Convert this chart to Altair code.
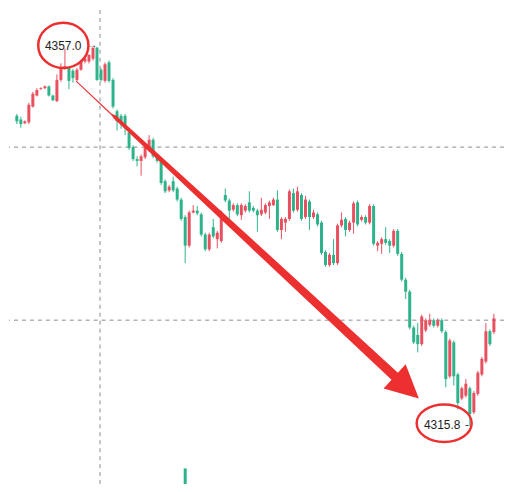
import altair as alt
import pandas as pd

# ---- candle data (price units) ----
opens = [4349.5, 4349.1, 4348.7, 4348.8, 4350.5, 4351.7, 4352.4, 4352.5, 4352.7, 4351.7,
         4351.1, 4353.4, 4354.6, 4354.7, 4354.4, 4353.4, 4354.5, 4355.4, 4355.4, 4355.7,
         4356.9, 4354.5, 4353.3, 4355.3, 4353.4, 4350.0, 4349.5, 4349.5, 4347.7, 4346.1,
         4344.8, 4344.6, 4345.0, 4345.8, 4346.9, 4345.1, 4344.6, 4342.4, 4341.4, 4342.4,
         4341.6, 4340.4, 4338.5, 4335.4, 4339.0, 4339.2, 4338.8, 4336.6, 4335.0, 4337.4,
         4336.1, 4335.9, 4340.9, 4340.3, 4339.3, 4339.8, 4338.7, 4339.2, 4340.1, 4339.5,
         4339.2, 4338.8, 4339.0, 4339.7, 4339.8, 4340.4, 4337.1, 4337.9, 4338.3, 4341.1,
         4339.3, 4340.9, 4338.5, 4340.2, 4338.5, 4338.8, 4337.9, 4334.7, 4333.3, 4334.4,
         4333.5, 4337.6, 4338.3, 4337.1, 4337.9, 4340.1, 4338.2, 4338.5, 4337.9, 4339.7,
         4335.4, 4335.6, 4336.1, 4335.9, 4335.4, 4337.0, 4334.5, 4331.7, 4330.4, 4326.5,
         4325.7, 4324.7, 4326.2, 4326.8, 4327.3, 4326.7, 4327.3, 4326.0, 4321.2, 4324.9,
         4321.4, 4318.8, 4319.1, 4319.9, 4317.3, 4319.3, 4321.4, 4322.8, 4326.1, 4326.0]
closes = [4348.9, 4348.6, 4348.9, 4350.7, 4351.9, 4352.3, 4352.5, 4352.7, 4351.7, 4351.2,
          4353.4, 4354.8, 4354.9, 4353.3, 4353.6, 4354.5, 4355.4, 4355.7, 4356.1, 4356.9,
          4353.4, 4353.4, 4355.1, 4353.3, 4350.5, 4348.9, 4348.9, 4348.2, 4346.0, 4344.8,
          4344.6, 4345.1, 4346.1, 4346.9, 4345.1, 4344.6, 4342.2, 4341.3, 4341.8, 4341.4,
          4340.4, 4338.3, 4335.4, 4339.0, 4339.2, 4338.9, 4336.6, 4335.0, 4336.6, 4336.4,
          4336.8, 4339.0, 4340.3, 4339.2, 4339.8, 4338.8, 4339.8, 4339.7, 4339.2, 4339.2,
          4338.7, 4339.3, 4339.8, 4340.1, 4340.4, 4337.1, 4338.3, 4338.3, 4341.3, 4339.2,
          4341.3, 4338.3, 4340.4, 4338.5, 4339.0, 4337.7, 4334.6, 4333.3, 4334.4, 4333.5,
          4337.6, 4338.2, 4337.1, 4337.9, 4340.0, 4337.7, 4338.5, 4337.9, 4339.7, 4335.6,
          4335.7, 4336.1, 4335.7, 4335.4, 4337.0, 4334.5, 4331.7, 4330.4, 4326.5, 4324.9,
          4324.7, 4327.7, 4327.3, 4327.3, 4326.7, 4327.3, 4326.1, 4320.9, 4325.1, 4321.2,
          4318.3, 4319.9, 4320.4, 4317.1, 4319.4, 4321.6, 4323.1, 4326.1, 4324.7, 4327.5]
highs = [4349.7, 4349.4, 4349.0, 4350.9, 4352.1, 4352.5, 4352.6, 4352.8, 4352.8, 4351.8,
         4354.0, 4355.2, 4356.8, 4354.9, 4354.6, 4354.7, 4355.6, 4355.9, 4356.2, 4356.9,
         4357.0, 4354.7, 4355.3, 4355.5, 4353.6, 4350.2, 4349.7, 4349.7, 4347.9, 4346.3,
         4345.1, 4345.3, 4346.3, 4347.4, 4347.1, 4345.3, 4344.8, 4342.6, 4342.0, 4342.9,
         4341.8, 4340.6, 4338.7, 4339.2, 4339.8, 4339.7, 4339.0, 4336.8, 4336.8, 4338.3,
         4337.0, 4339.2, 4341.6, 4340.5, 4340.0, 4340.0, 4340.0, 4339.9, 4341.3, 4339.7,
         4339.4, 4340.6, 4340.0, 4340.3, 4340.6, 4341.4, 4338.5, 4338.5, 4341.5, 4341.6,
         4341.8, 4341.1, 4340.8, 4340.4, 4339.3, 4339.0, 4338.1, 4334.9, 4334.6, 4336.1,
         4337.8, 4339.0, 4338.5, 4338.1, 4340.2, 4340.3, 4338.7, 4338.7, 4339.9, 4339.9,
         4335.9, 4336.3, 4337.4, 4336.1, 4337.2, 4337.2, 4334.7, 4331.9, 4330.6, 4326.7,
         4327.0, 4327.9, 4327.5, 4328.0, 4327.5, 4327.5, 4327.5, 4326.2, 4325.3, 4325.1,
         4321.6, 4320.1, 4320.9, 4320.1, 4319.6, 4321.8, 4323.3, 4327.0, 4326.3, 4328.0]
lows = [4348.6, 4348.2, 4348.6, 4348.6, 4350.4, 4351.6, 4352.3, 4352.4, 4351.6, 4351.1,
        4351.0, 4353.2, 4354.5, 4352.4, 4353.1, 4353.2, 4354.4, 4355.2, 4355.2, 4355.5,
        4353.3, 4353.2, 4353.1, 4353.1, 4350.3, 4347.9, 4348.1, 4347.4, 4345.8, 4344.6,
        4344.0, 4343.0, 4344.8, 4345.6, 4344.9, 4344.4, 4342.0, 4341.1, 4341.2, 4341.2,
        4340.2, 4338.1, 4333.5, 4335.2, 4338.9, 4338.7, 4336.4, 4334.8, 4334.8, 4336.2,
        4335.1, 4335.7, 4340.1, 4338.3, 4339.1, 4338.6, 4338.2, 4339.0, 4339.0, 4339.0,
        4336.9, 4338.6, 4338.8, 4338.3, 4339.7, 4336.9, 4336.1, 4336.9, 4338.1, 4339.0,
        4339.1, 4338.1, 4338.3, 4337.1, 4338.3, 4337.5, 4334.4, 4333.1, 4333.1, 4333.3,
        4333.3, 4337.4, 4336.4, 4336.9, 4336.7, 4337.5, 4338.0, 4337.7, 4337.7, 4335.4,
        4334.8, 4334.5, 4335.5, 4334.6, 4335.2, 4334.3, 4331.5, 4329.6, 4326.3, 4324.7,
        4323.8, 4324.5, 4326.0, 4326.6, 4326.5, 4326.5, 4325.9, 4320.0, 4321.0, 4320.2,
        4317.6, 4318.6, 4318.9, 4315.8, 4317.1, 4319.1, 4321.2, 4322.6, 4324.5, 4325.8]

# dashed guide lines
guide_prices = [4346.1, 4327.3]
guide_index = [20.75]

# volume bar peeking at bottom
vol_index = [42]
vol_top = [4311.2]

# annotation: labels
label_text = ["4357.0", "→", "4315.8", "-"]
label_i = [11.56, 18.8, 106.1, 112.3]
label_p = [4357.1, 4357.2, 4315.9, 4315.9]
label_size = [12, 10, 12, 11]

# annotation: ellipses (center index, center price)
ell_i = [11.6, 106.6]
ell_p = [4357.15, 4316.1]

# annotation: big arrow shaft
arrow_i = [14.86, 23.58, 24.5, 58.25, 94.8]
arrow_p = [4353.23, 4349.67, 4349.36, 4335.76, 4321.0]
arrow_w = [1.0, 1.2, 3.6, 7.0, 9.5]
head_i = [97.26]
head_p = [4320.0]

RED = "#e8505f"
GREEN = "#2db38a"
ANN = "#ec2f2f"

df = pd.DataFrame({"i": list(range(len(opens))), "open": opens, "close": closes,
                   "high": highs, "low": lows})

xs = alt.Scale(domain=[-0.71, 120.28], nice=False, zero=False)
ys = alt.Scale(domain=[4309.5, 4361.0], nice=False, zero=False)
X = lambda f: alt.X(f, type="quantitative", scale=xs, axis=None)
Y = lambda f: alt.Y(f, type="quantitative", scale=ys, axis=None)

color = alt.condition("datum.close >= datum.open", alt.value(RED), alt.value(GREEN))

hl = alt.Chart(pd.DataFrame({"p": guide_prices})).mark_rule(
    color="#8a8a8a", strokeDash=[4, 4], strokeWidth=1).encode(y=Y("p"))
vl = alt.Chart(pd.DataFrame({"i": guide_index})).mark_rule(
    color="#8a8a8a", strokeDash=[4, 4], strokeWidth=1).encode(x=X("i"))

wick = alt.Chart(df).mark_rule(strokeWidth=1).encode(
    x=X("i"), y=Y("low"), y2="high", color=color)
body = alt.Chart(df).mark_bar(width=3).encode(
    x=X("i"), y=Y("open"), y2="close", color=color)

vol = alt.Chart(pd.DataFrame({"i": vol_index, "top": vol_top, "bot": [4309.5]})).mark_bar(
    width=3, color=GREEN).encode(x=X("i"), y=Y("top"), y2="bot")

adf = pd.DataFrame({"i": arrow_i, "p": arrow_p, "w": arrow_w, "o": list(range(len(arrow_i)))})
shaft = alt.Chart(adf).mark_trail(color=ANN).encode(
    x=X("i"), y=Y("p"), size=alt.Size("w:Q", scale=None, legend=None), order="o:Q")
head = alt.Chart(pd.DataFrame({"i": head_i, "p": head_p})).mark_point(
    shape="M1,0L-1,-1L-1,1Z", filled=True, color=ANN, opacity=1, size=1085, angle=42.3
).encode(x=X("i"), y=Y("p"))

ell_top = alt.Chart(pd.DataFrame({"i": ell_i[:1], "p": ell_p[:1]})).mark_point(
    shape="M-1,0A1,0.9 0 1,0 1,0A1,0.9 0 1,0 -1,0Z", filled=False, color=ANN,
    strokeWidth=2.5, opacity=1, size=2540).encode(x=X("i"), y=Y("p"))
ell_bot = alt.Chart(pd.DataFrame({"i": ell_i[1:], "p": ell_p[1:]})).mark_point(
    shape="M-1,0A1,0.68 0 1,0 1,0A1,0.68 0 1,0 -1,0Z", filled=False, color=ANN,
    strokeWidth=2.5, opacity=1, size=3050).encode(x=X("i"), y=Y("p"))

ldf = pd.DataFrame({"t": label_text, "i": label_i, "p": label_p, "s": label_size})
labels = alt.Chart(ldf).mark_text(font="Liberation Sans", color="#1e1e1e",
                                  align="center", baseline="middle").encode(
    x=X("i"), y=Y("p"), text="t:N", size=alt.Size("s:Q", scale=None, legend=None))

chart = alt.layer(hl, vl, wick, body, vol, shaft, head, ell_top, ell_bot, labels).properties(
    width=497, height=476, padding=0, background="white"
).configure_view(stroke=None)

chart.save("out.html", embed_options={"renderer": "svg", "actions": False})
